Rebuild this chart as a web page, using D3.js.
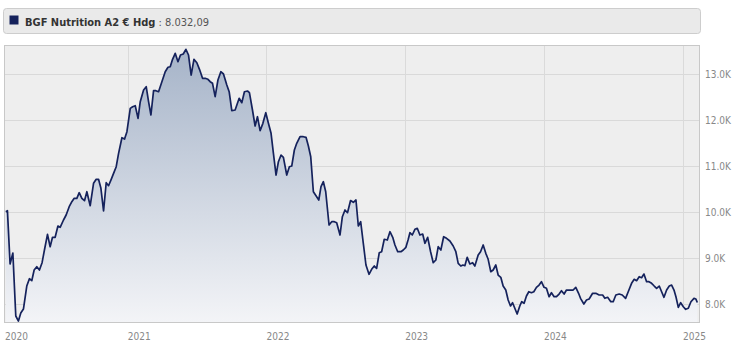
<!DOCTYPE html>
<html>
<head>
<meta charset="utf-8">
<script src="https://cdn.jsdelivr.net/npm/d3@7"></script>
<style>
  body { margin: 0; background: #fff; }
  svg { display: block; font-family: 'DejaVu Sans Condensed', 'DejaVu Sans', Verdana, sans-serif; }
</style>
</head>
<body>
<svg id="chart" width="740" height="354"></svg>
<script>
// Fund price history (decimal year -> price in EUR)
const seriesName = 'BGF Nutrition A2 € Hdg';
const lastValueText = '8.032,09';

const dates = [
  2020.123, 2020.135, 2020.154, 2020.174, 2020.195, 2020.214, 2020.231, 2020.250, 2020.274, 2020.293,
  2020.310, 2020.327, 2020.346, 2020.365, 2020.384, 2020.401, 2020.423, 2020.442, 2020.459, 2020.478,
  2020.498, 2020.514, 2020.538, 2020.557, 2020.579, 2020.598, 2020.615, 2020.634, 2020.651, 2020.670,
  2020.689, 2020.706, 2020.730, 2020.754, 2020.773, 2020.790, 2020.807, 2020.826, 2020.845, 2020.862,
  2020.881, 2020.898, 2020.917, 2020.934, 2020.958, 2020.977, 2020.994, 2021.018, 2021.035, 2021.054,
  2021.074, 2021.090, 2021.114, 2021.133, 2021.150, 2021.167, 2021.186, 2021.203, 2021.222, 2021.246,
  2021.270, 2021.290, 2021.306, 2021.323, 2021.342, 2021.362, 2021.380, 2021.400, 2021.419, 2021.438,
  2021.457, 2021.477, 2021.498, 2021.517, 2021.539, 2021.558, 2021.578, 2021.594, 2021.611, 2021.630,
  2021.650, 2021.671, 2021.690, 2021.714, 2021.731, 2021.750, 2021.774, 2021.803, 2021.822, 2021.841,
  2021.863, 2021.877, 2021.899, 2021.918, 2021.935, 2021.954, 2021.974, 2021.995, 2022.014, 2022.033,
  2022.050, 2022.069, 2022.086, 2022.105, 2022.122, 2022.146, 2022.165, 2022.182, 2022.201, 2022.218,
  2022.242, 2022.266, 2022.285, 2022.302, 2022.319, 2022.338, 2022.357, 2022.377, 2022.393, 2022.410,
  2022.427, 2022.451, 2022.470, 2022.489, 2022.506, 2022.530, 2022.547, 2022.566, 2022.584, 2022.606,
  2022.626, 2022.645, 2022.662, 2022.679, 2022.698, 2022.717, 2022.739, 2022.758, 2022.777, 2022.794,
  2022.813, 2022.830, 2022.849, 2022.871, 2022.890, 2022.910, 2022.926, 2022.946, 2022.969, 2022.986,
  2023.005, 2023.022, 2023.034, 2023.051, 2023.070, 2023.087, 2023.106, 2023.126, 2023.142, 2023.162,
  2023.183, 2023.202, 2023.221, 2023.238, 2023.257, 2023.277, 2023.298, 2023.322, 2023.346, 2023.365,
  2023.382, 2023.401, 2023.416, 2023.430, 2023.447, 2023.466, 2023.486, 2023.502, 2023.526, 2023.543,
  2023.562, 2023.581, 2023.598, 2023.617, 2023.634, 2023.653, 2023.670, 2023.689, 2023.706, 2023.725,
  2023.742, 2023.759, 2023.774, 2023.790, 2023.807, 2023.826, 2023.840, 2023.857, 2023.874, 2023.891,
  2023.910, 2023.927, 2023.946, 2023.965, 2023.982, 2024.001, 2024.018, 2024.037, 2024.054, 2024.073,
  2024.090, 2024.109, 2024.126, 2024.145, 2024.162, 2024.186, 2024.210, 2024.229, 2024.249, 2024.263,
  2024.287, 2024.306, 2024.325, 2024.350, 2024.373, 2024.397, 2024.422, 2024.438, 2024.458, 2024.481,
  2024.498, 2024.517, 2024.541, 2024.563, 2024.587, 2024.606, 2024.630, 2024.649, 2024.666, 2024.685,
  2024.702, 2024.719, 2024.738, 2024.755, 2024.774, 2024.793, 2024.810, 2024.829, 2024.846, 2024.863,
  2024.882, 2024.901, 2024.918, 2024.935, 2024.949, 2024.966, 2024.983, 2025.002, 2025.019, 2025.038,
  2025.057, 2025.079, 2025.092, 2025.103
];

const prices = [
  10007, 10028, 8870, 9109, 7739, 7630, 7804, 7891, 8391, 8550,
  8507, 8739, 8811, 8739, 8898, 9174, 9515, 9246, 9450, 9450,
  9696, 9667, 9826, 9935, 10115, 10224, 10298, 10298, 10420, 10298,
  10246, 10441, 10137, 10624, 10711, 10711, 10515, 10022, 10637, 10572,
  10711, 10841, 10985, 11276, 11615, 11587, 11746, 12254, 12289, 12311,
  12037, 12398, 12652, 12724, 12398, 12109, 12637, 12637, 12615, 12833,
  13050, 13146, 13159, 13320, 13450, 13268, 13413, 13435, 13537, 13413,
  12978, 13320, 13246, 13102, 12907, 12907, 12885, 12833, 12798, 12507,
  12870, 13050, 13000, 12761, 12615, 12202, 12218, 12472, 12376, 12615,
  12631, 12594, 12218, 11870, 12072, 11768, 11928, 12159, 11928, 11711,
  11276, 10804, 11094, 11239, 11189, 10804, 10985, 11000, 11348, 11494,
  11637, 11637, 11624, 11435, 11202, 10441, 10354, 10261, 10550, 10659,
  10441, 9717, 9789, 9789, 9767, 9500, 9898, 10044, 9985, 10250,
  10211, 10261, 9696, 9789, 9320, 8848, 8646, 8754, 8826, 8776,
  9115, 9137, 9407, 9391, 9572, 9450, 9283, 9137, 9137, 9174,
  9233, 9407, 9550, 9500, 9624, 9646, 9500, 9522, 9320, 9450,
  9137, 8898, 8957, 9246, 9174, 9463, 9428, 9370, 9261, 9137,
  8885, 8826, 8848, 8833, 9015, 8870, 8898, 8826, 9065, 9137,
  9283, 9102, 8972, 8702, 8739, 8848, 8630, 8580, 8391, 8304,
  8087, 7957, 8028, 7907, 7783, 7957, 8050, 8015, 8174, 8267,
  8246, 8267, 8363, 8413, 8485, 8363, 8341, 8159, 8246, 8159,
  8159, 8217, 8289, 8217, 8304, 8304, 8304, 8363, 8233, 8124,
  8000, 8087, 8109, 8233, 8233, 8196, 8196, 8124, 8146, 8050,
  8050, 8196, 8217, 8196, 8124, 8267, 8450, 8537, 8507, 8594,
  8572, 8652, 8485, 8485, 8450, 8391, 8341, 8391, 8267, 8146,
  8304, 8391, 8413, 8304, 8159, 7928, 8028, 7941, 7885, 7907,
  8050, 8124, 8110, 8032
];

const yTicks = [8000, 9000, 10000, 11000, 12000, 13000];
const xTickYears = [2020, 2021, 2022, 2023, 2024, 2025];

// --- helpers ---
function yearToDate(y) {
  const yr = Math.floor(y);
  const start = new Date(yr, 0, 1).getTime();
  const end = new Date(yr + 1, 0, 1).getTime();
  return new Date(start + (y - yr) * (end - start));
}

function fmtK(v) {
  return (v / 1000).toFixed(1) + 'K';
}

// --- layout ---
const plot = { left: 5, right: 699, top: 46, bottom: 322 };
const svg = d3.select('#chart');

const data = dates.map((d, i) => ({ date: yearToDate(d), value: prices[i] }));

const x = d3.scaleTime()
  .domain([new Date(2020, 1, 13), new Date(2025, 1, 12)])
  .range([plot.left, plot.right]);

const y = d3.scaleLinear()
  .domain([7609, 13609])
  .range([plot.bottom, plot.top]);

// gradient for the area under the line
const defs = svg.append('defs');
const grad = defs.append('linearGradient')
  .attr('id', 'areaFill')
  .attr('gradientUnits', 'userSpaceOnUse')
  .attr('x1', 0).attr('x2', 0)
  .attr('y1', plot.top).attr('y2', plot.bottom);
grad.append('stop').attr('offset', '0%').attr('stop-color', '#a5b3c8');
grad.append('stop').attr('offset', '100%').attr('stop-color', '#f3f4f7');

defs.append('clipPath').attr('id', 'plotClip')
  .append('rect')
  .attr('x', plot.left).attr('y', plot.top)
  .attr('width', plot.right - plot.left).attr('height', plot.bottom - plot.top);

// --- legend bar ---
const legend = svg.append('g');
legend.append('rect')
  .attr('x', 3.5).attr('y', 8.5).attr('width', 697).attr('height', 25).attr('rx', 3)
  .attr('fill', '#eaeaea').attr('stroke', '#cdcdcd');
legend.append('rect')
  .attr('x', 9.5).attr('y', 15.5).attr('width', 9).attr('height', 9)
  .attr('fill', '#15225c');
const legText = legend.append('text')
  .attr('x', 25).attr('y', 25.5)
  .attr('font-size', 11).attr('fill', '#333');
legText.append('tspan').attr('font-weight', 'bold').text(seriesName);
legText.append('tspan').attr('fill', '#555').text('  : ' + lastValueText);

// --- plot background + grid ---
svg.append('rect')
  .attr('x', plot.left).attr('y', plot.top)
  .attr('width', plot.right - plot.left).attr('height', plot.bottom - plot.top)
  .attr('fill', '#eeeeee');

svg.append('g').selectAll('line').data(yTicks).join('line')
  .attr('x1', plot.left).attr('x2', plot.right)
  .attr('y1', d => Math.round(y(d)) + 0.5).attr('y2', d => Math.round(y(d)) + 0.5)
  .attr('stroke', '#d9d9d9');

svg.append('g').selectAll('line').data(xTickYears.slice(1)).join('line')
  .attr('x1', d => Math.round(x(new Date(d, 0, 1))) + 0.5)
  .attr('x2', d => Math.round(x(new Date(d, 0, 1))) + 0.5)
  .attr('y1', plot.top).attr('y2', plot.bottom)
  .attr('stroke', '#dadada');

// --- area + line ---
const area = d3.area()
  .x(d => x(d.date)).y0(plot.bottom).y1(d => y(d.value));
const line = d3.line()
  .x(d => x(d.date)).y(d => y(d.value));

const g = svg.append('g').attr('clip-path', 'url(#plotClip)');
g.append('path').datum(data).attr('d', area).attr('fill', 'url(#areaFill)');
g.append('path').datum(data).attr('d', line)
  .attr('fill', 'none').attr('stroke', '#15225c').attr('stroke-width', 1.7)
  .attr('stroke-linejoin', 'round');

// plot border
svg.append('rect')
  .attr('x', plot.left - 0.5).attr('y', plot.top - 0.5)
  .attr('width', plot.right - plot.left + 1).attr('height', plot.bottom - plot.top + 1)
  .attr('fill', 'none').attr('stroke', '#c8c8c8');

// --- axis labels ---
svg.append('g').selectAll('text').data(yTicks).join('text')
  .attr('x', 705).attr('y', d => y(d) + 4)
  .attr('font-size', 10).attr('fill', '#888')
  .text(fmtK);

svg.append('g').selectAll('text').data(xTickYears).join('text')
  .attr('x', d => d === 2020 ? plot.left : x(new Date(d, 0, 1)))
  .attr('y', 340)
  .attr('font-size', 10).attr('fill', '#888')
  .text(d => d);
</script>
</body>
</html>
